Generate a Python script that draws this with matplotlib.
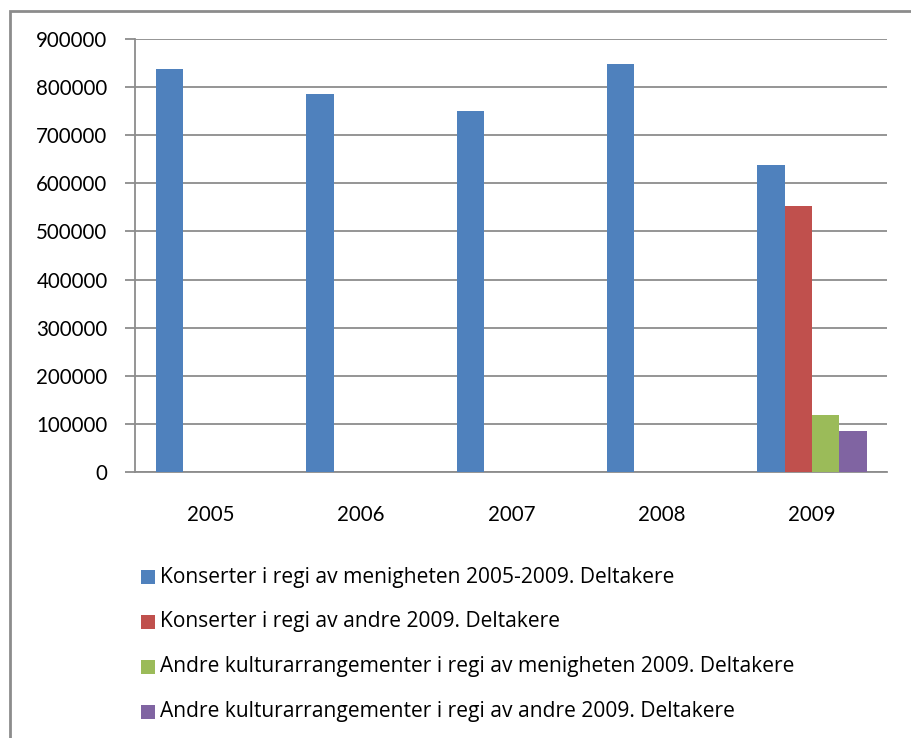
import matplotlib
matplotlib.use("Agg")
import matplotlib.pyplot as plt
from matplotlib.patches import Rectangle
import numpy as np

years = ["2005", "2006", "2007", "2008", "2009"]
konserter_menighet = [839000, 787000, 751000, 849000, 638000]
konserter_andre = [None, None, None, None, 552000]
kultur_menighet = [None, None, None, None, 118000]
kultur_andre = [None, None, None, None, 85000]
series_labels = [
    "Konserter i regi av menigheten 2005-2009. Deltakere",
    "Konserter i regi av andre 2009. Deltakere",
    "Andre kulturarrangementer i regi av menigheten 2009. Deltakere",
    "Andre kulturarrangementer i regi av andre 2009. Deltakere",
]
yticks = [0, 100000, 200000, 300000, 400000, 500000, 600000, 700000, 800000, 900000]

colors = ["#4F81BD", "#C0504D", "#9BBB59", "#8064A2"]
series = [konserter_menighet, konserter_andre, kultur_menighet, kultur_andre]

plt.rcParams['font.family'] = ['Lato', 'DejaVu Sans']

W, H = 911, 738
fig = plt.figure(figsize=(W / 100, H / 100), dpi=100)
fig.patch.set_facecolor("white")

# outer frame
fig.patches.append(Rectangle((10 / W, -0.05), 1.2, 1 - 10.7 / H + 0.05,
                             transform=fig.transFigure, fill=False,
                             edgecolor="#8c8c8c", linewidth=2))

left, right = 135.3 / W, 887.3 / W
top, bottom = 1 - 39.3 / H, 1 - 471.7 / H
ax = fig.add_axes([left, bottom, right - left, top - bottom])

x = np.arange(len(years))
w = 1 / 5.5
for i, (vals, c) in enumerate(zip(series, colors)):
    v = np.array([np.nan if a is None else a for a in vals], dtype=float)
    ax.bar(x + (i - 1.5) * w, v, width=w, color=c, edgecolor="none", zorder=3)

ax.set_xlim(-0.5, len(years) - 0.5)
ax.set_ylim(0, 900000)
ax.set_yticks(yticks)
ax.set_yticklabels([str(t) for t in yticks], fontsize=14.8)
ax.set_xticks(x)
ax.set_xticklabels(years, fontsize=14.8)
ax.yaxis.grid(True, color="#8c8c8c", linewidth=1.3, zorder=0)
ax.set_axisbelow(True)
for s in ["top", "right"]:
    ax.spines[s].set_visible(False)
for s in ["left", "bottom"]:
    ax.spines[s].set_color("#8c8c8c")
    ax.spines[s].set_linewidth(1.3)
ax.tick_params(axis="y", length=7, width=1.3, color="#8c8c8c", pad=13)
ax.tick_params(axis="x", length=0, pad=24)

# legend
row_y = [577, 621.5, 666.5, 711.5]
for lab, c, yy in zip(series_labels, colors, row_y):
    fig.patches.append(Rectangle((141 / W, 1 - (yy + 7) / H), 14 / W, 14 / H,
                                 transform=fig.transFigure, facecolor=c,
                                 edgecolor="none"))
    fig.text(160 / W, 1 - yy / H, lab, fontsize=15.1, va="center", ha="left",
             family=["Open Sans", "DejaVu Sans"])

fig.savefig("out.png", dpi=100, facecolor="white")
